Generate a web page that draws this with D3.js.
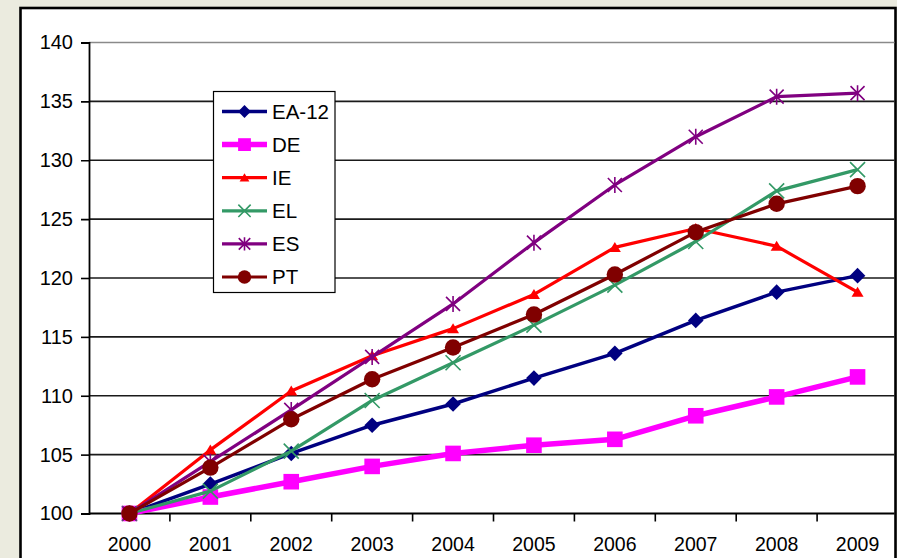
<!DOCTYPE html>
<html>
<head>
<meta charset="utf-8">
<script src="https://cdn.jsdelivr.net/npm/d3@7"></script>
<style>
  html, body { margin: 0; padding: 0; background: #ebebdf; }
  svg { display: block; }
  text { font-family: Arial, "Liberation Sans", sans-serif; fill: #000; }
</style>
</head>
<body>
<svg id="chart" width="897" height="558"></svg>
<script>
// Index levels, 2000 = 100
const years = ["2000","2001","2002","2003","2004","2005","2006","2007","2008","2009"];
const seriesNames = ["EA-12","DE","IE","EL","ES","PT"];
const ea12 = [100, 102.5, 105.1, 107.5, 109.3, 111.5, 113.6, 116.4, 118.8, 120.2];
const de   = [100, 101.4, 102.7, 104.0, 105.1, 105.8, 106.3, 108.3, 109.9, 111.6];
const ie   = [100, 105.4, 110.4, 113.4, 115.7, 118.6, 122.6, 124.2, 122.7, 118.8];
const el   = [100, 101.9, 105.3, 109.6, 112.8, 116.0, 119.4, 123.1, 127.4, 129.2];
const es   = [100, 104.4, 108.8, 113.3, 117.8, 123.0, 127.9, 132.0, 135.4, 135.7];
const pt   = [100, 103.9, 108.0, 111.4, 114.1, 116.9, 120.3, 123.9, 126.3, 127.8];
const yTicks = [100, 105, 110, 115, 120, 125, 130, 135, 140];

const styles = [
  { name: "EA-12", values: ea12, color: "#000080", width: 3.5, marker: "diamond" },
  { name: "DE",    values: de,   color: "#ff00ff", width: 5.5, marker: "square" },
  { name: "IE",    values: ie,   color: "#ff0000", width: 3.2, marker: "triangle" },
  { name: "EL",    values: el,   color: "#339966", width: 3.2, marker: "x" },
  { name: "ES",    values: es,   color: "#800080", width: 3.2, marker: "star" },
  { name: "PT",    values: pt,   color: "#800000", width: 3.2, marker: "circle" }
];

const svg = d3.select("#chart");

// white chart frame
svg.append("rect")
  .attr("x", 20.5).attr("y", 8).attr("width", 875).attr("height", 570)
  .attr("fill", "#fff").attr("stroke", "#000").attr("stroke-width", 2.6);

svg.append("clipPath").attr("id", "frameClip")
  .append("rect").attr("x", 22).attr("y", 9).attr("width", 872.5).attr("height", 560);

const root = svg.append("g").attr("clip-path", "url(#frameClip)");

const x = d3.scaleBand().domain(years).range([89, 898]).padding(0);
const cx = d => x(d) + x.bandwidth() / 2;
const y = d3.scaleLinear().domain([100, 140]).range([513.5, 42.5]);

// horizontal gridlines
root.append("g").selectAll("line").data(yTicks.filter(v => v > 100)).join("line")
  .attr("x1", 89).attr("x2", 898)
  .attr("y1", d => y(d)).attr("y2", d => y(d))
  .attr("stroke", d => d === 140 ? "#8a8a8a" : "#1a1a1a")
  .attr("stroke-width", 1.7);

// y axis
const yAxis = root.append("g").attr("transform", "translate(89,0)")
  .call(d3.axisLeft(y).tickValues(yTicks).tickSize(8).tickPadding(8).tickFormat(d3.format("d")));
yAxis.select(".domain").attr("stroke", "#000").attr("stroke-width", 1.8);
yAxis.selectAll(".tick line").attr("stroke", "#000").attr("stroke-width", 1.6);
yAxis.selectAll("text").attr("font-size", 20).attr("font-family", "Arial, 'Liberation Sans', sans-serif");

// x axis: labels centred in the categories, ticks on category boundaries
const xAxis = root.append("g").attr("transform", `translate(0,${y(100)})`)
  .call(d3.axisBottom(x).tickSize(0));
xAxis.select(".domain").remove();
xAxis.selectAll("text")
  .attr("y", 37.5).attr("dy", 0)
  .attr("font-size", 19.5).attr("font-family", "Arial, 'Liberation Sans', sans-serif");
root.append("line")
  .attr("x1", 89).attr("x2", 898).attr("y1", y(100)).attr("y2", y(100))
  .attr("stroke", "#000").attr("stroke-width", 1.8);
root.append("g").selectAll("line").data(years.slice(1).map(d => x(d)).concat([898])).join("line")
  .attr("x1", d => d).attr("x2", d => d)
  .attr("y1", y(100)).attr("y2", y(100) + 8)
  .attr("stroke", "#000").attr("stroke-width", 1.6);

// marker drawing
function drawMarker(g, type, color, px, py, scale) {
  const s = scale || 1;
  if (type === "diamond") {
    const r = 7.8 * s;
    g.append("path").attr("d", `M${px},${py - r}L${px + r},${py}L${px},${py + r}L${px - r},${py}Z`)
      .attr("fill", color);
  } else if (type === "square") {
    const h = 7.8 * s;
    g.append("rect").attr("x", px - h).attr("y", py - h).attr("width", 2 * h).attr("height", 2 * h)
      .attr("fill", color);
  } else if (type === "triangle") {
    const w = 6 * s, h = 10 * s;
    g.append("path").attr("d", `M${px},${py - h * 0.55}L${px + w},${py + h * 0.45}L${px - w},${py + h * 0.45}Z`)
      .attr("fill", color);
  } else if (type === "x") {
    const r = 7.5 * s;
    g.append("path").attr("d", `M${px - r},${py - r}L${px + r},${py + r}M${px - r},${py + r}L${px + r},${py - r}`)
      .attr("stroke", color).attr("stroke-width", 1.6).attr("fill", "none");
  } else if (type === "star") {
    const r = 7 * s, v = 8 * s;
    g.append("path").attr("d", `M${px - r},${py - r}L${px + r},${py + r}M${px - r},${py + r}L${px + r},${py - r}M${px},${py - v}L${px},${py + v}`)
      .attr("stroke", color).attr("stroke-width", 1.6).attr("fill", "none");
  } else if (type === "circle") {
    g.append("circle").attr("cx", px).attr("cy", py).attr("r", 8.2 * s).attr("fill", color);
  }
}

const line = d3.line().x((d, i) => cx(years[i])).y(d => y(d));

styles.forEach(s => {
  const g = root.append("g");
  g.append("path").datum(s.values)
    .attr("d", line)
    .attr("fill", "none").attr("stroke", s.color).attr("stroke-width", s.width)
    .attr("stroke-linejoin", "round");
  s.values.forEach((v, i) => drawMarker(g, s.marker, s.color, cx(years[i]), y(v), 1));
});

// legend
const legend = root.append("g");
legend.append("rect")
  .attr("x", 213.5).attr("y", 91.5).attr("width", 121.5).attr("height", 201)
  .attr("fill", "#fff").attr("stroke", "#000").attr("stroke-width", 1.2);
styles.forEach((s, i) => {
  const ly = 111.5 + i * 33.1;
  legend.append("line")
    .attr("x1", 222).attr("x2", 267).attr("y1", ly).attr("y2", ly)
    .attr("stroke", s.color).attr("stroke-width", s.width);
  drawMarker(legend, s.marker, s.color, 244.5, ly, 0.82);
  legend.append("text")
    .attr("x", 272).attr("y", ly).attr("dy", "0.36em")
    .attr("font-size", 20.5)
    .text(s.name);
});
</script>
</body>
</html>
